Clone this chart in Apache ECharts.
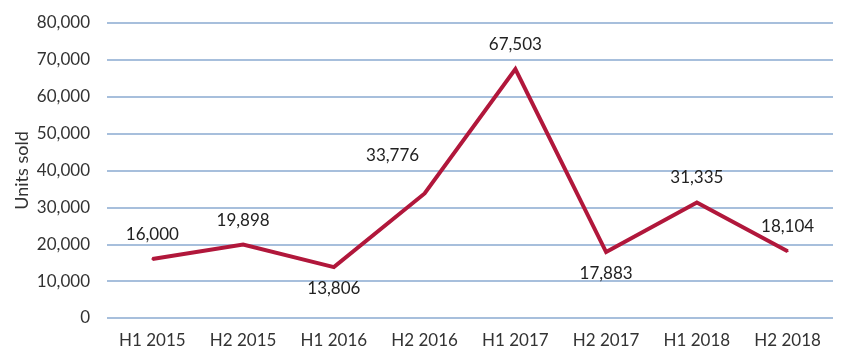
<!DOCTYPE html>
<html><head><meta charset="utf-8">
<script src="https://cdn.jsdelivr.net/npm/echarts@6/dist/echarts.min.js"></script>
<style>html,body{margin:0;padding:0;background:#fff}#c{width:850px;height:364px}</style>
</head><body><div id="c"></div>
<script>
const categories = ['H1 2015','H2 2015','H1 2016','H2 2016','H1 2017','H2 2017','H1 2018','H2 2018'];
const unitsSold = [16000, 19898, 13806, 33776, 67503, 17883, 31335, 18104];
const yTicks = {min: 0, max: 80000, interval: 10000};
const labelPlacement = ['top','top','bottom','topLeft','top','bottom','top','top'];

const fmt = v => v.toLocaleString('en-US');
const font = 'Lato, "Open Sans", sans-serif';
const data = unitsSold.map((v, i) => {
  const p = labelPlacement[i];
  let label;
  if (p === 'bottom') label = {position: 'bottom', distance: 12};
  else if (p === 'topLeft') label = {position: [-31, -37], align: 'center', verticalAlign: 'middle'};
  else label = {position: 'top', distance: 15};
  return {value: v, label};
});
const chart = echarts.init(document.getElementById('c'));
chart.setOption({
  animation: false,
  grid: {left: 107, right: 17, top: 23, bottom: 46},
  xAxis: {
    type: 'category', data: categories, boundaryGap: true,
    axisLine: {show: false}, axisTick: {show: false},
    axisLabel: {color: '#333', fontSize: 17, fontFamily: font, margin: 14}
  },
  yAxis: {
    type: 'value', min: yTicks.min, max: yTicks.max, interval: yTicks.interval,
    name: 'Units sold', nameLocation: 'middle', nameGap: 76, nameRotate: 90, nameMoveOverlap: false,
    nameTextStyle: {color: '#333', fontSize: 18, fontFamily: font},
    axisLabel: {color: '#333', fontSize: 17, fontFamily: font, margin: 17, formatter: v => fmt(v)},
    splitLine: {lineStyle: {color: '#A7BFDC', width: 2}}
  },
  series: [{
    type: 'line', data: data, symbol: 'circle', symbolSize: 2, showSymbol: true, showAllSymbol: true,
    lineStyle: {color: '#B1173B', width: 4, join: 'miter'},
    itemStyle: {color: '#B1173B'},
    label: {show: true, color: '#222', fontSize: 17, fontFamily: font, formatter: p => fmt(p.value)},
    labelLayout: {hideOverlap: false}
  }]
});
</script></body></html>
